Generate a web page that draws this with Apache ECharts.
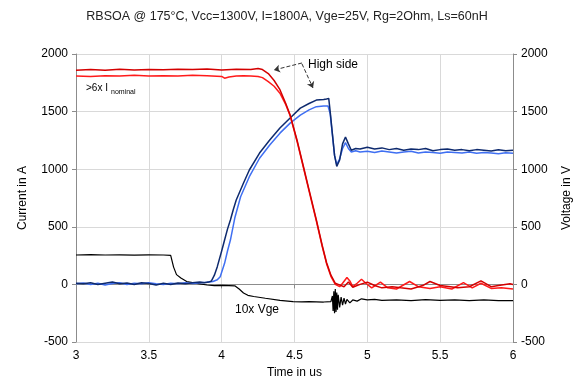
<!DOCTYPE html>
<html>
<head>
<meta charset="utf-8">
<script src="https://cdn.jsdelivr.net/npm/echarts@6/dist/echarts.min.js"></script>
<style>
  html, body { margin: 0; padding: 0; background: #fff; }
  #main { width: 574px; height: 392px; }
</style>
</head>
<body>
<div id="main"></div>
<script>
// time axis ticks (us)
var timeTicks = [3, 3.5, 4, 4.5, 5, 5.5, 6]

// collector current, high side (two measurements)
var currentA = [[3.0,1860],[3.1,1865],[3.2,1860],[3.3,1868],[3.4,1862],[3.5,1866],[3.6,1863],[3.7,1868],[3.8,1865],[3.9,1870],[4.0,1862],[4.1,1868],[4.2,1865],[4.25,1875],[4.28,1865],[4.32,1830],[4.36,1770],[4.40,1690],[4.44,1570],[4.47,1470],[4.52,1240],[4.56,1030],[4.60,820],[4.65,560],[4.69,340],[4.72,190],[4.75,80],[4.78,10],[4.80,0],[4.84,-20],[4.87,20],[4.90,-25],[4.95,0],[5.0,20],[5.05,-10],[5.1,-30],[5.17,-20],[5.23,-30],[5.3,-40],[5.38,-10],[5.43,25],[5.5,-10],[5.57,-20],[5.62,-30],[5.7,-20],[5.78,30],[5.85,-20],[5.9,-10],[5.98,5],[6.0,0]]
var currentB = [[3.0,1810],[3.1,1805],[3.2,1812],[3.3,1808],[3.4,1815],[3.5,1810],[3.6,1812],[3.7,1808],[3.8,1815],[3.9,1812],[4.0,1805],[4.02,1790],[4.05,1800],[4.1,1810],[4.15,1812],[4.2,1810],[4.25,1805],[4.28,1795],[4.32,1760],[4.36,1720],[4.40,1660],[4.44,1560],[4.47,1465],[4.52,1230],[4.56,1020],[4.60,810],[4.65,550],[4.69,330],[4.72,180],[4.75,70],[4.78,0],[4.81,-20],[4.83,10],[4.86,60],[4.88,30],[4.90,-20],[4.93,10],[4.96,45],[4.99,10],[5.03,-30],[5.09,20],[5.14,-30],[5.2,-40],[5.29,25],[5.35,-20],[5.43,-35],[5.5,-20],[5.58,-40],[5.66,15],[5.72,-30],[5.78,10],[5.85,-35],[5.92,-30],[6.0,-40]]

// collector-emitter voltage, high side (two measurements)
var voltageA = [[3.0,10],[3.05,5],[3.1,15],[3.15,0],[3.2,10],[3.25,20],[3.3,5],[3.35,12],[3.4,0],[3.45,15],[3.5,8],[3.55,-5],[3.6,10],[3.65,0],[3.7,12],[3.75,5],[3.8,15],[3.85,20],[3.88,15],[3.91,20],[3.93,30],[3.95,80],[3.97,154],[4.0,290],[4.02,385],[4.04,480],[4.06,559],[4.08,650],[4.10,733],[4.15,880],[4.19,993],[4.26,1140],[4.33,1253],[4.40,1357],[4.47,1444],[4.54,1530],[4.60,1570],[4.65,1600],[4.70,1605],[4.72,1610],[4.735,1615],[4.745,1500],[4.76,1310],[4.775,1120],[4.79,1025],[4.81,1080],[4.83,1220],[4.85,1280],[4.87,1220],[4.89,1165],[4.92,1180],[4.95,1175],[5.0,1190],[5.05,1175],[5.1,1185],[5.15,1170],[5.2,1180],[5.25,1165],[5.3,1175],[5.35,1170],[5.4,1180],[5.45,1160],[5.5,1170],[5.55,1175],[5.6,1165],[5.65,1170],[5.7,1160],[5.75,1170],[5.8,1165],[5.85,1158],[5.9,1168],[5.95,1160],[6.0,1165]]
var voltageB = [[3.0,5],[3.05,12],[3.1,0],[3.15,10],[3.2,-5],[3.25,8],[3.3,15],[3.35,0],[3.4,10],[3.45,5],[3.5,15],[3.55,5],[3.6,0],[3.65,10],[3.7,5],[3.75,15],[3.8,8],[3.85,15],[3.9,18],[3.94,25],[3.97,40],[3.99,67],[4.02,183],[4.04,290],[4.06,385],[4.09,576],[4.13,761],[4.19,935],[4.26,1095],[4.33,1210],[4.40,1313],[4.47,1400],[4.54,1470],[4.60,1515],[4.65,1543],[4.70,1549],[4.73,1548],[4.745,1480],[4.76,1300],[4.775,1120],[4.79,1040],[4.81,1090],[4.83,1180],[4.85,1230],[4.87,1180],[4.89,1150],[4.92,1160],[4.95,1150],[5.0,1155],[5.05,1145],[5.1,1158],[5.15,1150],[5.2,1140],[5.25,1150],[5.3,1155],[5.35,1140],[5.4,1150],[5.45,1145],[5.5,1138],[5.55,1150],[5.6,1145],[5.65,1140],[5.7,1150],[5.75,1138],[5.8,1145],[5.85,1140],[5.9,1135],[5.95,1142],[6.0,1138]]

// gate voltage x10
var gateX10 = [[3.0,255],[3.1,258],[3.2,255],[3.3,257],[3.4,254],[3.5,256],[3.6,255],[3.65,252],[3.67,150],[3.69,85],[3.72,55],[3.76,25],[3.8,15],[3.85,5],[3.9,-5],[3.95,-10],[4.0,-8],[4.05,-10],[4.09,-12],[4.12,-40],[4.15,-75],[4.18,-95],[4.22,-105],[4.3,-120],[4.4,-138],[4.49,-150],[4.55,-152],[4.6,-150],[4.7,-153],[4.75,-150],[4.76,-100],[4.765,-230],[4.77,-60],[4.775,-250],[4.78,-40],[4.785,-240],[4.79,-70],[4.795,-220],[4.80,-90],[4.81,-200],[4.82,-110],[4.83,-180],[4.84,-120],[4.85,-170],[4.86,-130],[4.88,-160],[4.9,-135],[4.93,-145],[4.96,-125],[5.0,-135],[5.05,-130],[5.1,-138],[5.2,-135],[5.3,-140],[5.4,-132],[5.5,-138],[5.6,-135],[5.7,-140],[5.8,-135],[5.9,-140],[6.0,-140]]

var yTicks = [-500, 0, 500, 1000, 1500, 2000]

var myChart = echarts.init(document.getElementById('main'))

var font = 'Liberation Sans, Arial, sans-serif'
var axisCommon = {
  axisLine: { show: true, lineStyle: { color: '#8c8c8c', width: 1 } },
  axisTick: { show: true, lineStyle: { color: '#8c8c8c' }, length: 4 },
  axisLabel: { color: '#000', fontSize: 12, fontFamily: font, formatter: function (v) { return String(v) } },
  nameTextStyle: { color: '#000', fontSize: 12, fontFamily: font }
}

function valueAxis(pos, name) {
  return Object.assign({}, axisCommon, {
    type: 'value',
    position: pos,
    min: yTicks[0],
    max: yTicks[yTicks.length - 1],
    interval: 500,
    name: name,
    nameLocation: 'middle',
    nameGap: pos === 'left' ? 47 : 48,
    splitLine: { show: pos === 'left', lineStyle: { color: '#d9d9d9' } }
  })
}

function line(data, color, width, yAxisIndex) {
  return {
    type: 'line',
    data: data,
    yAxisIndex: yAxisIndex || 0,
    showSymbol: false,
    symbol: 'none',
    animation: false,
    lineStyle: { color: color, width: width }
  }
}

var option = {
  animation: false,
  title: {
    text: 'RBSOA @ 175°C, Vcc=1300V, I=1800A, Vge=25V, Rg=2Ohm, Ls=60nH',
    left: 'center',
    top: 5,
    textStyle: { fontSize: 12.5, fontWeight: 'normal', color: '#222', fontFamily: font }
  },
  grid: { left: 76, right: 61, top: 54, bottom: 50, outerBoundsMode: 'none' },
  xAxis: Object.assign({}, axisCommon, {
    type: 'value',
    min: timeTicks[0],
    max: timeTicks[timeTicks.length - 1],
    interval: 0.5,
    name: 'Time in us',
    nameLocation: 'middle',
    nameGap: 25,
    splitLine: { show: true, lineStyle: { color: '#d9d9d9' } }
  }),
  yAxis: [valueAxis('left', 'Current in A'), valueAxis('right', 'Voltage in V')],
  series: [
    line(gateX10, '#000000', 1.2),
    line(voltageB, '#3f6ff2', 1.5, 1),
    line(voltageA, '#0e2a6e', 1.5, 1),
    line(currentB, '#ff1a1a', 1.5),
    Object.assign(line(currentA, '#d40000', 1.5), {
      markLine: {
        silent: true,
        symbol: ['none', 'arrow'],
        symbolSize: 6,
        label: { show: false },
        lineStyle: { color: '#333', type: 'dashed', width: 1 },
        data: [
          [{ coord: [4.551, 1922] }, { coord: [4.359, 1861] }],
          [{ coord: [4.551, 1915] }, { coord: [4.627, 1705] }]
        ]
      }
    })
  ],
  graphic: [
    { type: 'text', left: 308, top: 59, style: { text: 'High side', fontSize: 12, fill: '#000', fontFamily: font } },
    { type: 'text', left: 86, top: 83, style: { text: '>6x I', fontSize: 10, fill: '#000', fontFamily: font } },
    { type: 'text', left: 111, top: 89, style: { text: 'nominal', fontSize: 7, fill: '#000', fontFamily: font } },
    { type: 'text', left: 235, top: 304, style: { text: '10x Vge', fontSize: 12, fill: '#000', fontFamily: font } }
  ]
}

myChart.setOption(option)
</script>
</body>
</html>
